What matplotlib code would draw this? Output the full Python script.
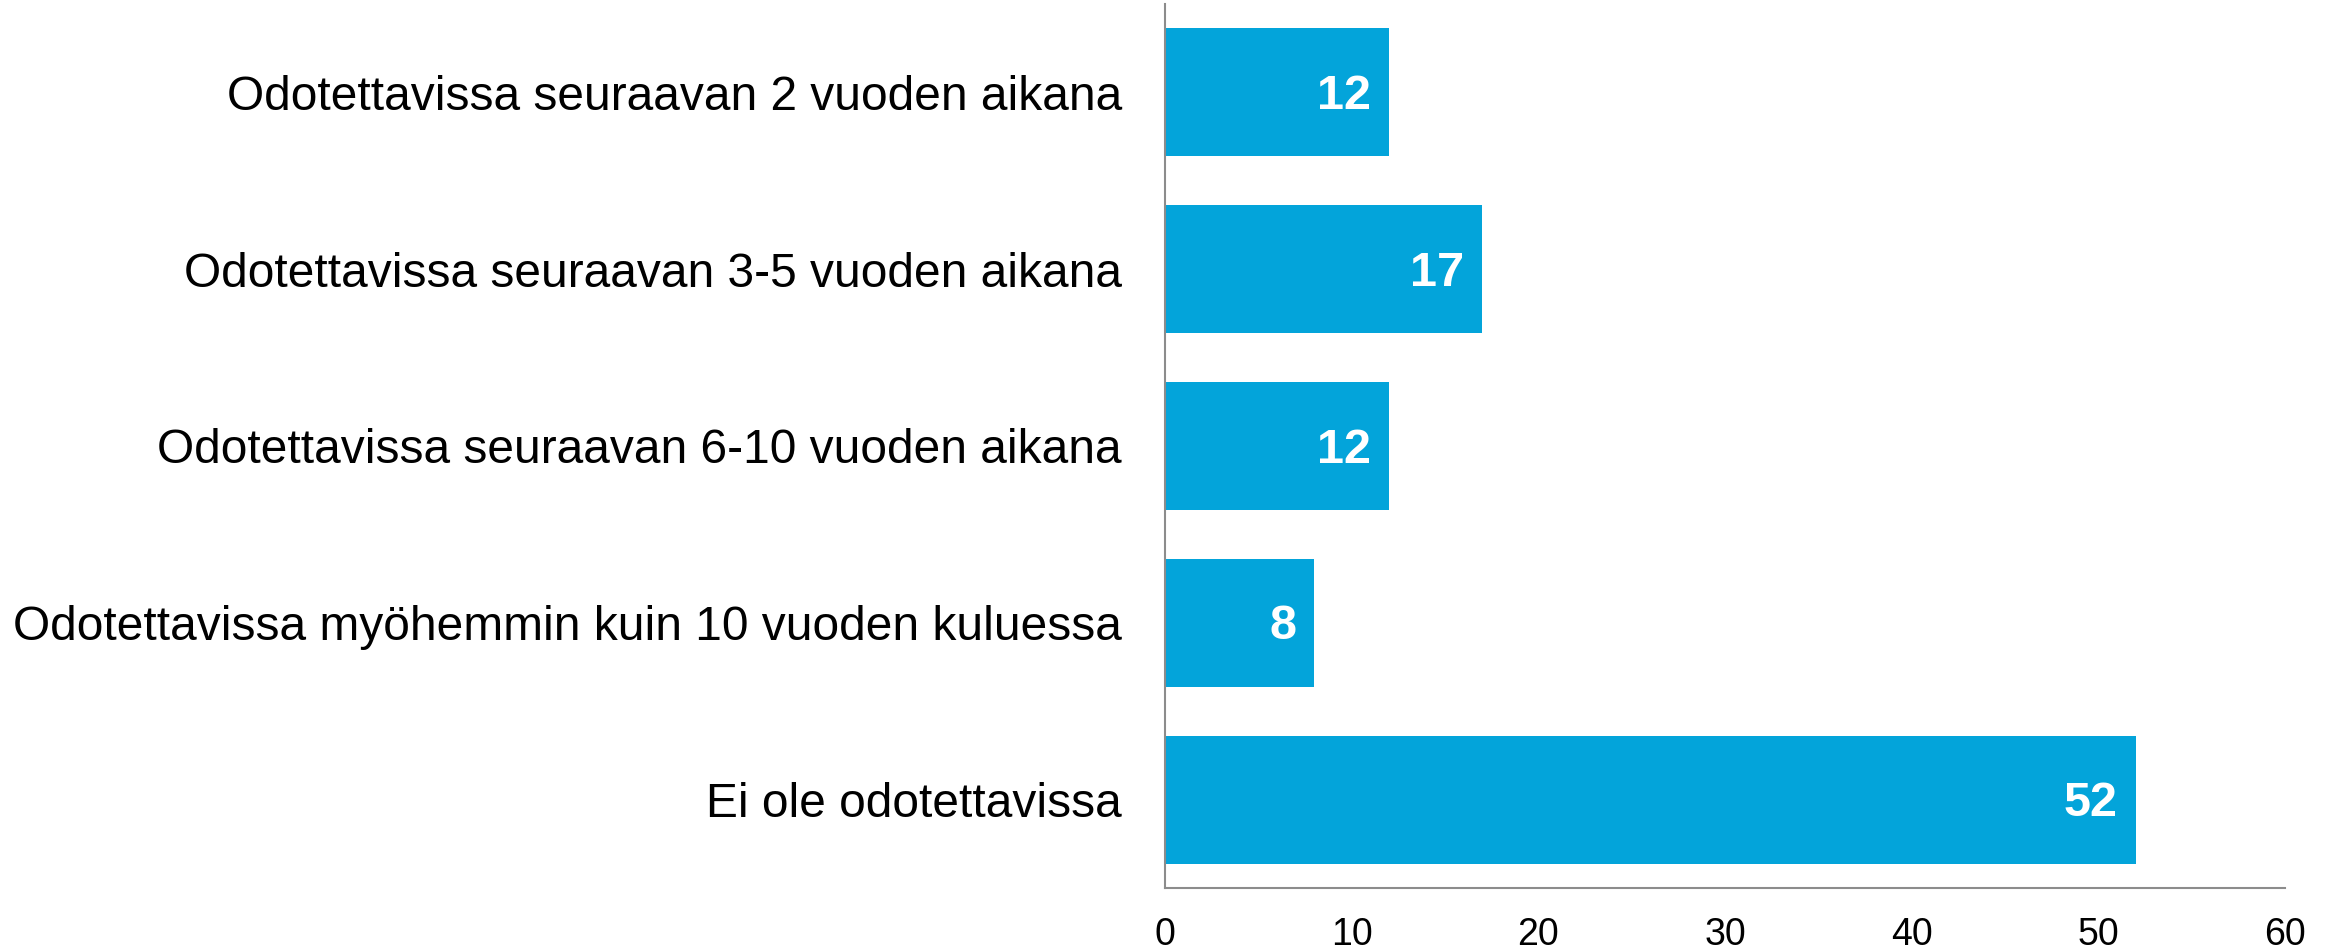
import matplotlib.pyplot as plt

plt.rcParams['font.family'] = ['Liberation Sans', 'DejaVu Sans']

categories = [
    "Odotettavissa seuraavan 2 vuoden aikana",
    "Odotettavissa seuraavan 3-5 vuoden aikana",
    "Odotettavissa seuraavan 6-10 vuoden aikana",
    "Odotettavissa myöhemmin kuin 10 vuoden kuluessa",
    "Ei ole odotettavissa",
]
values = [12, 17, 12, 8, 52]
xticks = [0, 10, 20, 30, 40, 50, 60]

bar_color = '#03A4DA'
axis_color = '#8C8C8C'

fig = plt.figure(figsize=(23.36, 9.5), dpi=100)
ax = fig.add_axes([0.4987, 0.0653, 0.9782 - 0.4987, 0.9958 - 0.0653])

pos = list(range(len(categories)))
ax.barh(pos, values, height=0.724, color=bar_color)

# value labels inside bar end
for p, v in zip(pos, values):
    ax.annotate(str(v), xy=(v, p), xytext=(-13, -3), textcoords='offset points',
                ha='right', va='center', color='white', fontsize=35, fontweight='bold')

ax.set_ylim(4.5, -0.5)
ax.set_xlim(0, 60)
ax.set_yticks(pos)
ax.set_yticklabels(categories, fontsize=34.5)
ax.set_xticks(xticks)
ax.set_xticklabels([str(t) for t in xticks], fontsize=27)
ax.tick_params(axis='y', length=0, pad=31)
ax.tick_params(axis='x', length=0, pad=21)

for side in ['top', 'right']:
    ax.spines[side].set_visible(False)
for side in ['left', 'bottom']:
    ax.spines[side].set_color(axis_color)
    ax.spines[side].set_linewidth(1.5)

fig.savefig('out.png', dpi=100)
